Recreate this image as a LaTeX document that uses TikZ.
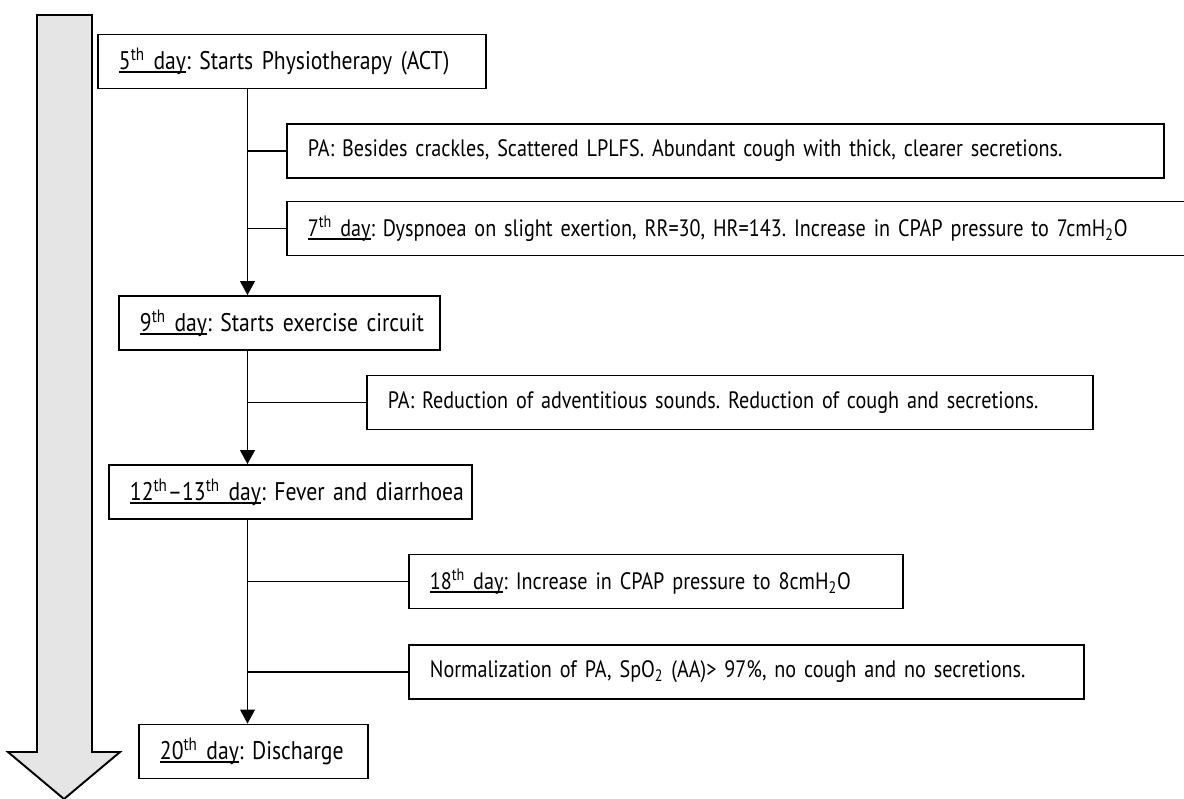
\documentclass[tikz,border=0pt]{standalone}
\usepackage{fontspec}
\setmainfont{PT Sans}[FakeStretch=0.85]
\frenchspacing
\usetikzlibrary{arrows.meta,positioning}
% underline that sits close to the baseline
\newcommand{\dayul}[1]{\setbox0\hbox{#1}\rlap{\rule[-0.14em]{\wd0}{0.07em}}\box0}

\begin{document}
\begin{tikzpicture}[
  every node/.style={font=\fontsize{13.5}{16}\selectfont},
  box/.style={rectangle, draw=black, line width=1.1pt, minimum height=1.08cm, inner xsep=0.42cm, anchor=west, align=left},
  daybox/.style={box, font=\fontsize{14.5}{17}\selectfont},
  ar/.style={-{Triangle[length=0.28cm,width=0.3cm]}, line width=0.6pt},
  ln/.style={line width=0.6pt}
]
  \useasboundingbox (0,0) rectangle (23.68,-15.96);
  % time arrow
  \draw[line width=1.1pt, fill=black!10] (0.74,-0.30) -- (1.84,-0.30) -- (1.84,-15.04) -- (2.40,-15.04)
    -- (1.28,-15.98) -- (0.16,-15.04) -- (0.74,-15.04) -- cycle;

  \coordinate (sp) at (4.95,0);

  \node[daybox, text width=6.92cm] (d5) at (1.94,-1.23) {\mbox{\dayul{5\textsuperscript{th} day}: Starts Physiotherapy (ACT)}};
  \node[box, text width=16.70cm] (pa1) at (5.72,-3.02) {PA: Besides crackles, Scattered LPLFS. Abundant cough with thick, clearer secretions.};
  \node[box, text width=17.30cm] (d7) at (5.72,-4.57) {\dayul{7\textsuperscript{th} day}: Dyspnoea on slight exertion, RR=30, HR=143. Increase in CPAP pressure to 7cmH\textsubscript{2}O};
  \node[daybox, text width=5.58cm] (d9) at (2.36,-6.46) {\mbox{\dayul{9\textsuperscript{th} day}: Starts exercise circuit}};
  \node[box, text width=13.68cm] (pa2) at (7.32,-8.05) {PA: Reduction of adventitious sounds. Reduction of cough and secretions.};
  \node[daybox, text width=6.42cm] (d12) at (2.16,-9.84) {\mbox{\dayul{12\textsuperscript{th}--13\textsuperscript{th} day}: Fever and diarrhoea}};
  \node[box, text width=9.04cm] (d18) at (8.16,-11.63) {\dayul{18\textsuperscript{th} day}: Increase in CPAP pressure to 8cmH\textsubscript{2}O};
  \node[box, text width=12.66cm] (norm) at (8.16,-13.44) {Normalization of PA, SpO\textsubscript{2} (AA)> 97\%, no cough and no secretions.};
  \node[daybox, text width=3.74cm] (d20) at (2.76,-15.03) {\mbox{\dayul{20\textsuperscript{th} day}: Discharge}};

  % main line
  \draw[ar] (d5.south -| sp) -- (d9.north -| sp);
  \draw[ar] (d9.south -| sp) -- (d12.north -| sp);
  \draw[ar] (d12.south -| sp) -- (d20.north -| sp);
  % side branches
  \draw[ln] (pa1.west -| sp) -- (pa1.west);
  \draw[ln] (d7.west -| sp) -- (d7.west);
  \draw[ln] (pa2.west -| sp) -- (pa2.west);
  \draw[ln] (d18.west -| sp) -- (d18.west);
  \draw[ln] (norm.west -| sp) -- (norm.west);
\end{tikzpicture}
\end{document}
